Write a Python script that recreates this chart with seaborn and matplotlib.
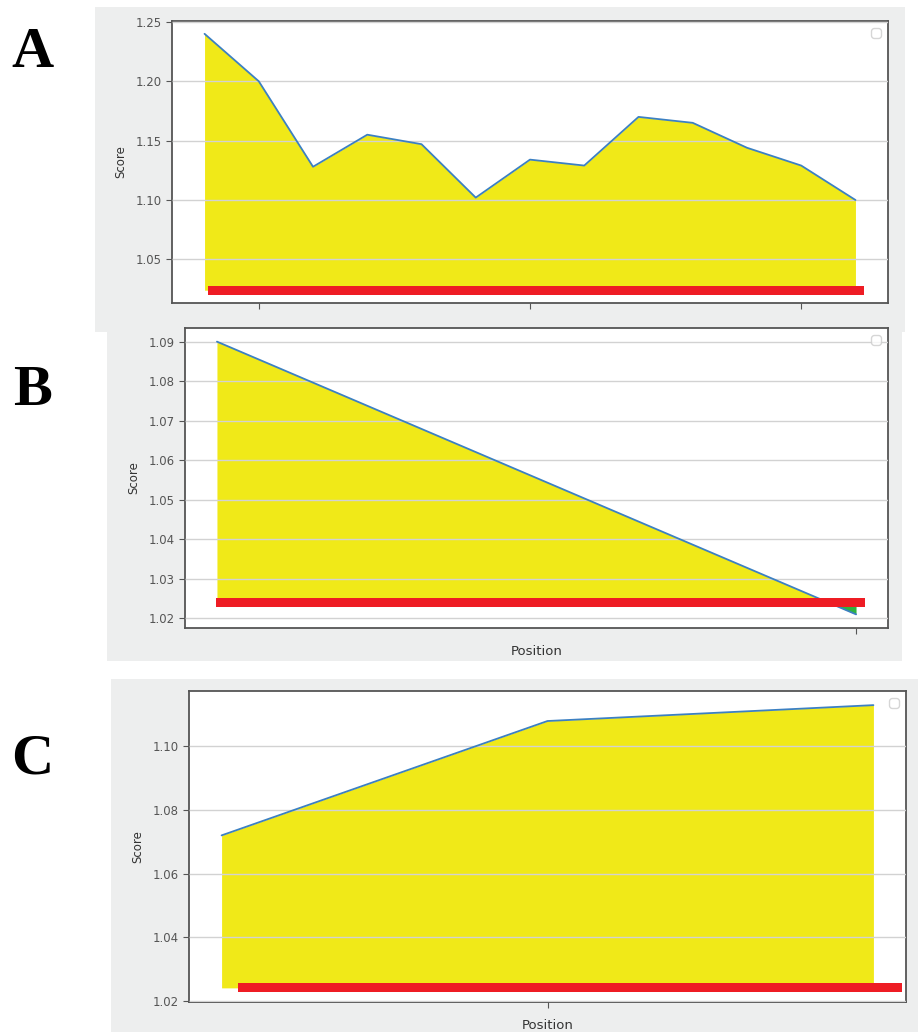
import matplotlib
matplotlib.use('Agg')  # headless
import matplotlib.pyplot as plt
import seaborn as sns
import numpy as np
from matplotlib.patches import Rectangle
from matplotlib.ticker import MultipleLocator, NullFormatter, FormatStrFormatter

# --- data ------------------------------------------------------------------
pos_a = [4, 5, 6, 7, 8, 9, 10, 11, 12, 13, 14, 15, 16]
score_a = [1.240, 1.200, 1.128, 1.155, 1.147, 1.102, 1.134, 1.129,
           1.170, 1.165, 1.144, 1.129, 1.100]

pos_b = [9, 10]
score_b = [1.090, 1.021]

pos_c = [4, 5, 6]
score_c = [1.072, 1.108, 1.113]

baseline = 1.024          # level the area is filled down to
panel_letters = ['A', 'B', 'C']

sns.set_style('white')
plt.rcParams['font.family'] = ['DejaVu Sans']

W, H = 918, 1032
fig = plt.figure(figsize=(W / 100, H / 100), dpi=100)
fig.patch.set_facecolor('white')


def px_rect(x0, y0, x1, y1):
    """figure-fraction rect from pixel box (top-left origin)."""
    return [x0 / W, 1 - y1 / H, (x1 - x0) / W, (y1 - y0) / H]


# panel background boxes (light gray, like screenshots)
boxes = [(95, 7, 905, 332), (107, 313, 902, 661), (111, 679, 918, 1032)]
axes_px = [(172, 21, 888, 303), (185, 328, 888, 628), (189, 691, 906, 1002)]
red_bars = [(0.050, 0.966, 0.028, 0.060),
            (0.044, 0.967, 0.070, 0.100),
            (0.068, 0.994, 0.032, 0.061)]
ysteps = [0.05, 0.01, 0.02]
letter_y = [53, 391, 760]

data = [(pos_a, score_a), (pos_b, score_b), (pos_c, score_c)]

for i, ((xs, ys), box, apx) in enumerate(zip(data, boxes, axes_px)):
    bx0, by0, bx1, by1 = box
    bg = Rectangle((bx0 / W, 1 - by1 / H), (bx1 - bx0) / W, (by1 - by0) / H,
                   transform=fig.transFigure, facecolor='#edeeee',
                   edgecolor='none', zorder=2 * i - 3)
    fig.patches.append(bg)

    ax = fig.add_axes(px_rect(*apx))
    ax.set_zorder(2 * i - 2)
    ax.set_facecolor('white')

    xs = np.array(xs)
    ys = np.array(ys)
    ax.fill_between(xs, ys, baseline, where=ys >= baseline, interpolate=True,
                    color='#f0e918', linewidth=0, zorder=1)
    ax.fill_between(xs, ys, baseline, where=ys < baseline, interpolate=True,
                    color='#2fb340', linewidth=0, zorder=1)
    sns.lineplot(x=xs, y=ys, ax=ax, color='#3c80c2', linewidth=1.3, zorder=3)

    # grid shows through the fill in the original
    ax.set_axisbelow(False)
    ax.grid(axis='y', color='#d2d2d2', linewidth=1.0, zorder=2)
    ax.grid(axis='x', visible=False)

    ax.yaxis.set_major_locator(MultipleLocator(ysteps[i]))
    ax.yaxis.set_major_formatter(FormatStrFormatter('%.2f'))
    ax.xaxis.set_major_locator(MultipleLocator(5))
    ax.xaxis.set_major_formatter(NullFormatter())
    ax.tick_params(axis='both', direction='out', length=4, width=0.8,
                   colors='#555555', labelsize=8.5, left=True, bottom=True)

    for sp in ax.spines.values():
        sp.set_color('#555555')
        sp.set_linewidth(1.3)

    ax.set_ylabel('Score', fontsize=8.5, color='#333333', labelpad=6)
    ax.set_xlabel('Position', fontsize=9.5, color='#333333', labelpad=5)

    # empty legend box, as in the original
    ax.legend(handles=[], loc='upper right', frameon=True, borderpad=0.35,
              fancybox=True, framealpha=0.8, edgecolor='#cccccc')

    # red highlight bar overlaid on the screenshot
    x0, x1, y0, y1 = red_bars[i]
    ax.add_patch(Rectangle((x0, y0), x1 - x0, y1 - y0, transform=ax.transAxes,
                           facecolor='#ee1c24', edgecolor='none', zorder=5,
                           clip_on=False))

    fig.text(32 / W, 1 - letter_y[i] / H, panel_letters[i], ha='center',
             va='center', fontsize=42, fontweight='bold',
             family=['Liberation Serif', 'DejaVu Serif'], color='black')

fig.savefig('out.png', dpi=100, facecolor='white')
plt.close(fig)
